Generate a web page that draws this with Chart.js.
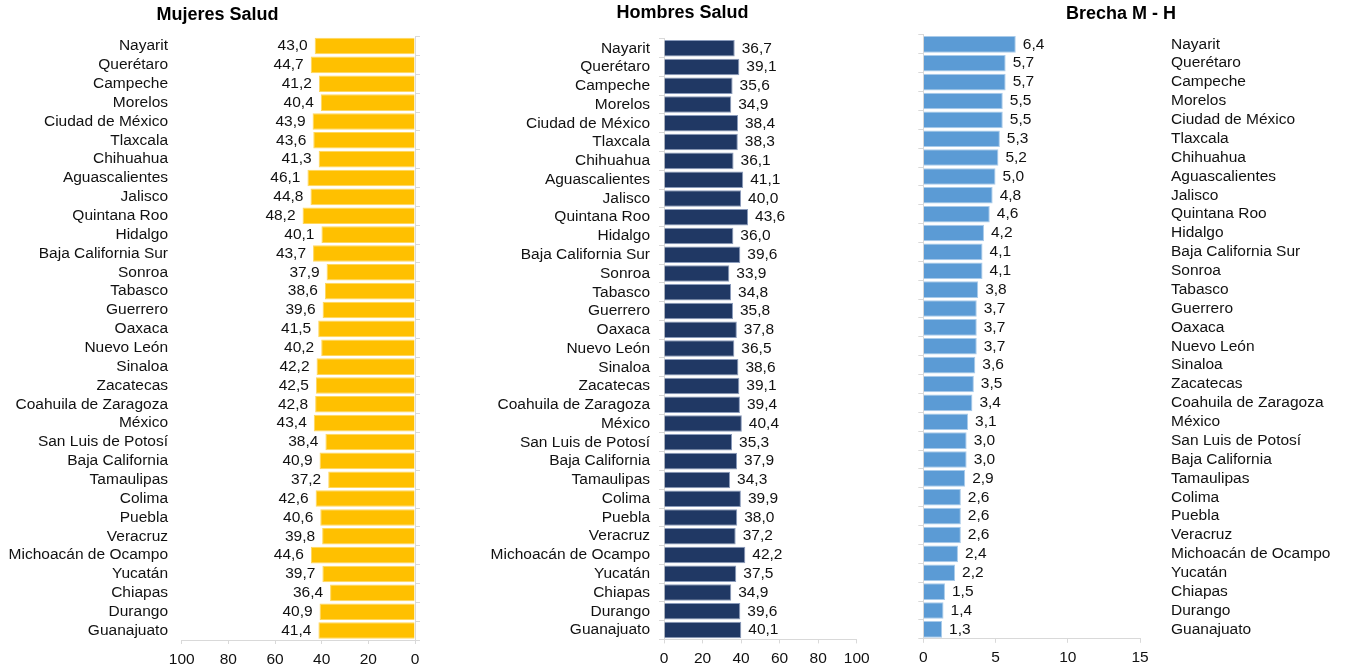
<!DOCTYPE html>
<html lang="es">
<head>
<meta charset="utf-8">
<title>Salud: Mujeres, Hombres y Brecha M - H</title>
<script src="https://cdn.jsdelivr.net/npm/chart.js@4/dist/chart.umd.min.js"></script>
<style>
  html, body { margin: 0; padding: 0; background: #fff; }
  #wrap { position: relative; width: 1346px; height: 672px; }
  canvas { position: absolute; top: 0; }
</style>
</head>
<body>
<div id="wrap">
  <canvas id="mujeres-chart" width="435" height="672" style="left:0"></canvas>
  <canvas id="hombres-chart" width="485" height="672" style="left:440px"></canvas>
  <canvas id="brecha-chart" width="450" height="672" style="left:896px"></canvas>
</div>
<script>
// Entidades, en el orden del gráfico (de arriba hacia abajo)
const estados = [
  'Nayarit', 'Querétaro', 'Campeche', 'Morelos', 'Ciudad de México', 'Tlaxcala',
  'Chihuahua', 'Aguascalientes', 'Jalisco', 'Quintana Roo', 'Hidalgo',
  'Baja California Sur', 'Sonroa', 'Tabasco', 'Guerrero', 'Oaxaca', 'Nuevo León',
  'Sinaloa', 'Zacatecas', 'Coahuila de Zaragoza', 'México', 'San Luis de Potosí',
  'Baja California', 'Tamaulipas', 'Colima', 'Puebla', 'Veracruz',
  'Michoacán de Ocampo', 'Yucatán', 'Chiapas', 'Durango', 'Guanajuato'
];

const mujeresSalud = [
  43.0, 44.7, 41.2, 40.4, 43.9, 43.6, 41.3, 46.1, 44.8, 48.2, 40.1,
  43.7, 37.9, 38.6, 39.6, 41.5, 40.2, 42.2, 42.5, 42.8, 43.4, 38.4,
  40.9, 37.2, 42.6, 40.6, 39.8, 44.6, 39.7, 36.4, 40.9, 41.4
];

const hombresSalud = [
  36.7, 39.1, 35.6, 34.9, 38.4, 38.3, 36.1, 41.1, 40.0, 43.6, 36.0,
  39.6, 33.9, 34.8, 35.8, 37.8, 36.5, 38.6, 39.1, 39.4, 40.4, 35.3,
  37.9, 34.3, 39.9, 38.0, 37.2, 42.2, 37.5, 34.9, 39.6, 40.1
];

const brechaMH = [
  6.4, 5.7, 5.7, 5.5, 5.5, 5.3, 5.2, 5.0, 4.8, 4.6, 4.2,
  4.1, 4.1, 3.8, 3.7, 3.7, 3.7, 3.6, 3.5, 3.4, 3.1, 3.0,
  3.0, 2.9, 2.6, 2.6, 2.6, 2.4, 2.2, 1.5, 1.4, 1.3
];

// Escalas del eje de valores
const ejeSalud = { min: 0, max: 100, step: 20 };
const ejeBrecha = { min: 0, max: 15, step: 5 };

const FONT_FAMILY = '"Liberation Sans", Arial, sans-serif';
const TEXT_COLOR = '#111';
const AXIS_COLOR = '#d9d9d9';

Chart.defaults.font.family = FONT_FAMILY;
Chart.defaults.font.size = 15.5;
Chart.defaults.color = TEXT_COLOR;

/**
 * Formato con coma decimal (43,0)
 */
function formatValue(v) {
  return v.toFixed(1).replace('.', ',');
}

/**
 * Dibuja el valor junto al extremo de cada barra
 */
const valueLabels = {
  id: 'valueLabels',
  afterDatasetsDraw(chart, args, opts) {
    const ctx = chart.ctx;
    const meta = chart.getDatasetMeta(0);
    const values = chart.data.datasets[0].data;
    const toLeft = opts.side === 'left';
    ctx.save();
    ctx.font = '15.5px ' + FONT_FAMILY;
    ctx.fillStyle = TEXT_COLOR;
    ctx.textBaseline = 'middle';
    ctx.textAlign = toLeft ? 'right' : 'left';
    meta.data.forEach((bar, i) => {
      const x = toLeft ? bar.x - 7 : bar.x + 7;
      ctx.fillText(formatValue(values[i]), x, bar.y);
    });
    ctx.restore();
  }
};

// Ancho fijo para ejes verticales; sin relleno extra arriba/abajo
function fixWidth(w) {
  return scale => {
    scale.width = w;
    scale.paddingTop = 0;
    scale.paddingBottom = 0;
  };
}
function fixHeight(h) {
  return scale => { scale.height = h; };
}

// Eje de categorías: solo marcas + línea
function tickAxis(position, width) {
  return {
    type: 'category',
    position: position,
    offset: true,
    grid: { display: true, drawOnChartArea: false, drawTicks: true, tickLength: 5, color: AXIS_COLOR, offset: true },
    border: { display: true, color: AXIS_COLOR },
    ticks: { display: false },
    afterFit: fixWidth(width)
  };
}

// Eje de categorías: solo nombres
function labelAxis(position, width, padding) {
  return {
    type: 'category',
    position: position,
    offset: true,
    grid: { display: false, drawTicks: false },
    border: { display: false },
    ticks: { autoSkip: false, padding: padding, font: { size: 15.5 } },
    afterFit: fixWidth(width)
  };
}

function valueAxis(range, reverse, height) {
  return {
    type: 'linear',
    position: 'bottom',
    reverse: reverse,
    min: range.min,
    max: range.max,
    grid: { display: true, drawOnChartArea: false, drawTicks: true, tickLength: 4, color: AXIS_COLOR },
    border: { display: true, color: AXIS_COLOR },
    ticks: { stepSize: range.step, padding: 6, font: { size: 15.5 } },
    afterFit: fixHeight(height)
  };
}

function makeTitle(text, top, bottom) {
  return {
    display: true,
    text: text,
    color: '#000',
    font: { size: 18, weight: 'bold' },
    padding: { top: top, bottom: bottom }
  };
}

function barDataset(label, data, color, border) {
  return {
    label: label,
    data: data,
    backgroundColor: color,
    borderColor: border,
    borderWidth: 1,
    barPercentage: 0.88,
    categoryPercentage: 1
  };
}

function baseOptions() {
  return {
    indexAxis: 'y',
    responsive: false,
    animation: false,
    layout: { padding: 0 },
    plugins: {
      legend: { display: false },
      tooltip: { enabled: false }
    }
  };
}

// Mujeres Salud (eje invertido, nombres a la izquierda, línea base a la derecha)
const optsMujeres = baseOptions();
optsMujeres.plugins.title = makeTitle('Mujeres Salud', 4.2, 10.8);
optsMujeres.plugins.valueLabels = { side: 'left' };
optsMujeres.scales = {
  y: labelAxis('left', 181.7, 13.7),
  y2: tickAxis('right', 20),
  x: valueAxis(ejeSalud, true, 32)
};
new Chart(document.getElementById('mujeres-chart').getContext('2d'), {
  type: 'bar',
  data: { labels: estados, datasets: [barDataset('Mujeres Salud', mujeresSalud, '#ffc000', '#ffd75e')] },
  options: optsMujeres,
  plugins: [valueLabels]
});

// Hombres Salud
const optsHombres = baseOptions();
optsHombres.plugins.title = makeTitle('Hombres Salud', 2.2, 15.1);
optsHombres.plugins.valueLabels = { side: 'right' };
const ejeHombres = labelAxis('left', 224, 9);
ejeHombres.grid = { display: true, drawOnChartArea: false, drawTicks: true, tickLength: 5, color: AXIS_COLOR, offset: true };
ejeHombres.border = { display: true, color: AXIS_COLOR };
optsHombres.scales = {
  y: ejeHombres,
  y2: {
    type: 'category',
    position: 'right',
    grid: { display: false, drawTicks: false },
    border: { display: false },
    ticks: { display: false },
    afterFit: fixWidth(68.3)
  },
  x: valueAxis(ejeSalud, false, 32.6)
};
new Chart(document.getElementById('hombres-chart').getContext('2d'), {
  type: 'bar',
  data: { labels: estados, datasets: [barDataset('Hombres Salud', hombresSalud, '#203864', '#8a9bbb')] },
  options: optsHombres,
  plugins: [valueLabels]
});

// Brecha M - H (nombres a la derecha)
const optsBrecha = baseOptions();
optsBrecha.plugins.title = makeTitle('Brecha M - H', 3.2, 10.1);
optsBrecha.plugins.valueLabels = { side: 'right' };
optsBrecha.scales = {
  y: tickAxis('left', 27.3),
  y2: labelAxis('right', 206, 31),
  x: valueAxis(ejeBrecha, false, 33.2)
};
new Chart(document.getElementById('brecha-chart').getContext('2d'), {
  type: 'bar',
  data: { labels: estados, datasets: [barDataset('Brecha M - H', brechaMH, '#5b9bd5', '#a9cbea')] },
  options: optsBrecha,
  plugins: [valueLabels]
});
</script>
</body>
</html>
